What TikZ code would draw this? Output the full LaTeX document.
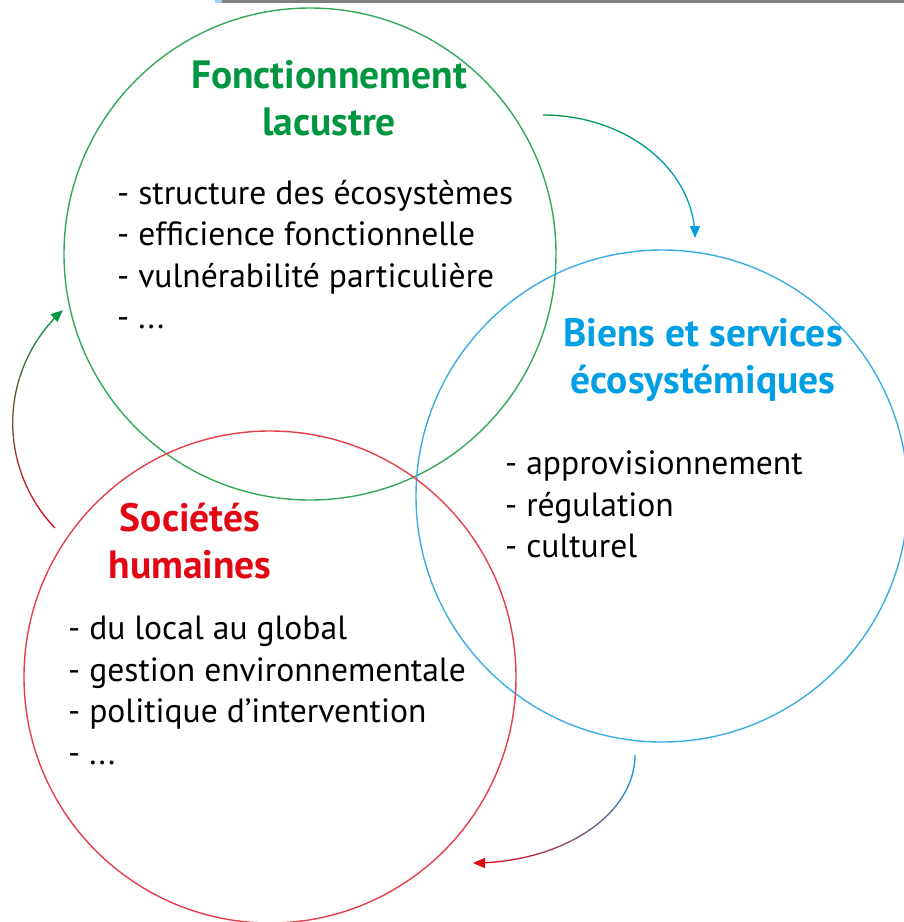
\documentclass[tikz,border=0pt]{standalone}
\usepackage{fontspec}
\setmainfont{PT Sans}
\usepackage{xcolor}
\usepackage{tikz}
\usetikzlibrary{positioning,arrows.meta}

\definecolor{lacgreen}{RGB}{0,150,64}
\definecolor{lacring}{RGB}{52,168,90}
\definecolor{bseblue}{RGB}{0,159,227}
\definecolor{bsering}{RGB}{60,172,228}
\definecolor{socred}{RGB}{227,6,19}
\definecolor{socring}{RGB}{230,62,74}
\definecolor{topbar}{RGB}{128,128,128}

\begin{document}
\begin{tikzpicture}[
    x=1pt, y=-1pt,
    ring/.style={circle, draw, line width=1.4pt, minimum size=492pt, inner sep=0pt},
    title/.style={font=\fontsize{39.5}{47}\selectfont\bfseries, align=center, anchor=north, inner sep=0pt},
    items/.style={font=\fontsize{33.6}{41.5}\selectfont, align=left, anchor=north west, inner sep=0pt},
    arr/.style={line width=1.3pt}
]
\useasboundingbox (0,0) rectangle (904,922);

% screen strip along the top edge
\fill[topbar] (215,0) rectangle (904,3);
\fill[bsering!50] (215,0) rectangle (222,3);

% === Circles ===
\node[ring, draw=lacring] (lac) at (310,254) {};
\node[ring, draw=bsering] (bse) at (662,496) {};
\node[ring, draw=socring] (soc) at (270,677) {};

% === Fonctionnement lacustre ===
\node[title, text=lacgreen] (lactitle) at (329,60.5) {Fonctionnement\\lacustre};
\node[items] (laclist) at (117,180) {- structure des écosystèmes\\- efficience fonctionnelle\\- vulnérabilité particulière\\- ...};

% === Biens et services ===
\node[title, text=bseblue] (bsetitle) at (703,318) {Biens et services\\écosystémiques};
\node[items] (bselist) at (505,451) {- approvisionnement\\- régulation\\- culturel};

% === Sociétés humaines ===
\node[title, text=socred] (soctitle) at (190,503) {Sociétés\\humaines};
\node[items] (soclist) at (68,616) {- du local au global\\- gestion environnementale\\- politique d’intervention\\- ...};

% === Cycle arrows (centre of each arc) ===
\coordinate (lac2bse) at (543,238);
\coordinate (bse2soc) at (473,755);
\coordinate (soc2lac) at (164.5,422.9);

\foreach \c/\rx/\ry/\a/\d/\from/\to in {lac2bse/152/123/-90/7.5/lacgreen/bseblue,
    bse2soc/162/108/0/7.5/bseblue/socred,
    soc2lac/151.8/151.8/136.2/7.65/socred/lacgreen} {
    \foreach \k in {0,...,10} {
        \pgfmathtruncatemacro{\p}{100*\k/11}
        \draw[arr, draw=\to!\p!\from] (\c) ++({\a+\k*\d}:{\rx} and {\ry})
            arc[start angle={\a+\k*\d}, delta angle=\d, x radius=\rx, y radius=\ry];
    }
    \draw[arr, draw=\to, fill=\to, -{Triangle[length=12pt,width=10pt]}] (\c) ++({\a+11*\d}:{\rx} and {\ry})
        arc[start angle={\a+11*\d}, delta angle=\d, x radius=\rx, y radius=\ry];
}
\end{tikzpicture}
\end{document}
